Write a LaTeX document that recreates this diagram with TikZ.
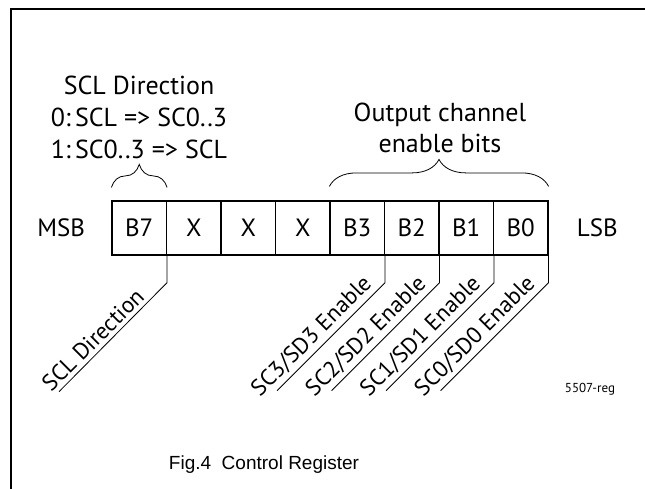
\documentclass[tikz,border=0pt]{standalone}
\usepackage{fontspec}
\setmainfont{PT Sans}
\newfontfamily\capfont{Liberation Sans}
\usetikzlibrary{positioning,calc,decorations.pathreplacing}

\begin{document}
\begin{tikzpicture}[x=0.5pt, y=-0.5pt,
    bitcell/.style={draw, line width=0.6pt, minimum width=27.25pt, minimum height=27pt,
      inner sep=0pt, font=\fontsize{12.5}{15}\selectfont},
    sidelbl/.style={font=\fontsize{12.5}{15}\selectfont, inner sep=0pt},
    headlbl/.style={align=center, inner sep=0pt, font=\fontsize{13}{16}\selectfont},
    diaglbl/.style={rotate=45, anchor=south east, inner xsep=1pt, inner ysep=1.8pt,
      font=\fontsize{11.5}{14}\selectfont},
    lead/.style={line width=0.4pt},
    bracket/.style={decorate, line width=0.4pt}]
      \useasboundingbox (0,0) rectangle (645,489);
      \draw[line width=1pt] (11,489) -- (11,9) -- (645,9);
      \foreach \n/\lbl in {7/B7,6/X,5/X,4/X,3/B3,2/B2,1/B1,0/B0}
        \node[bitcell] (bit\n) at ({112+54.5*(7-\n)+27.25},228) {\lbl};
      \node[sidelbl, left=13pt of bit7] (msb) {MSB};
      \node[sidelbl, right=14pt of bit0] (lsb) {LSB};
      \draw[bracket, decoration={brace, amplitude=11.5pt}]
        ($(bit7.north west)+(0,-13)$) -- ($(bit7.north east)+(0,-13)$);
      \draw[bracket, decoration={brace, amplitude=13.5pt}]
        ($(bit3.north west)+(0,-14)$) -- ($(bit0.north east)+(0,-14)$);
      \node[headlbl, anchor=north] (dirhead) at (139,76)
        {SCL Direction\\0:\,SCL => SC0..3\\1:\,SC0..3 => SCL};
      \node[headlbl, anchor=north, font=\fontsize{13}{15.5}\selectfont] (outhead) at (440,103)
        {Output channel\\enable bits};
      \coordinate (k7) at ($(bit7.south east)+(0,27)$);
      \coordinate (e7) at ($(k7)+(-108,109)$);
      \draw[lead] (bit7.south east) -- (k7) -- (e7);
      \node[diaglbl] (dirlbl) at ($(k7)!12pt!(e7)$) {SCL Direction};
      \foreach \n in {3,2,1,0} {
        \coordinate (k\n) at ($(bit\n.south east)+(0,27)$);
        \coordinate (e\n) at ($(k\n)+(-108,108)$);
        \draw[lead] (bit\n.south east) -- (k\n) -- (e\n);
        \node[diaglbl] (en\n) at ($(k\n)!4pt!(e\n)$) {SC\n/SD\n\ Enable};
      }
      \node[anchor=base, inner sep=0pt, font=\fontsize{6.5}{8}\selectfont] (refid) at (590,392) {5507-reg};
      \node[inner sep=0pt, font=\capfont\fontsize{9.5}{12}\selectfont] (caption) at (264,465)
        {Fig.4\ \ Control Register};
    \end{tikzpicture}
\end{document}
